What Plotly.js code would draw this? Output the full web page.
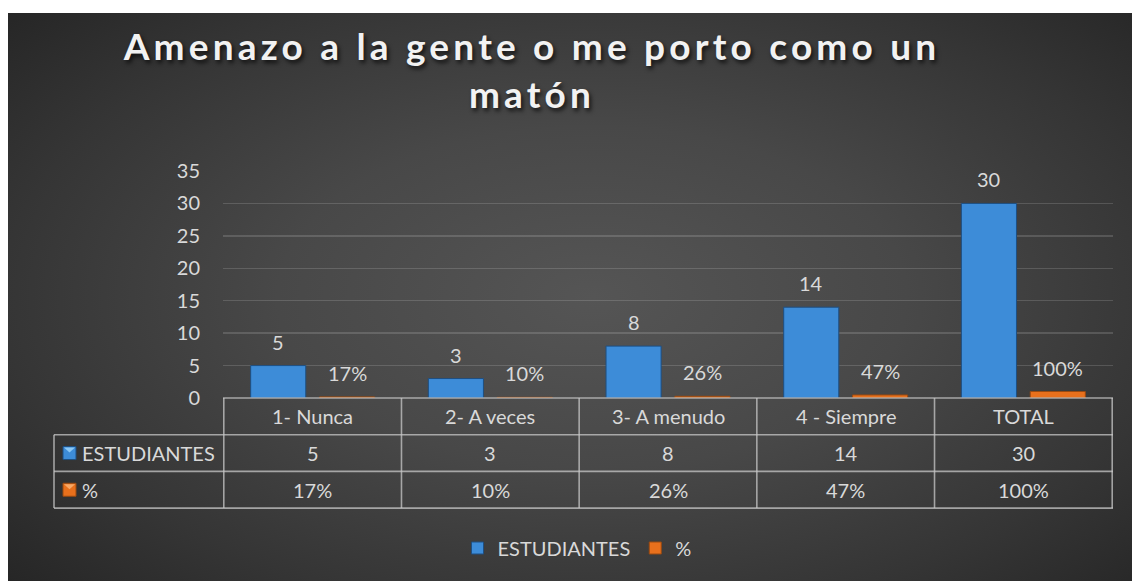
<!DOCTYPE html>
<html>
<head>
<meta charset="utf-8">
<script src="https://cdn.plot.ly/plotly-3.0.1.min.js"></script>
<style>
  html, body { margin: 0; padding: 0; background: #ffffff; }
  #wrap { position: relative; width: 1132px; height: 581px; overflow: hidden; }
  #bg { position: absolute; left: 8px; top: 13px; width: 1124px; height: 568px;
        background: radial-gradient(ellipse 70% 75% at 52% 50%, #555555 0%, #484848 40%, #353535 75%, #262626 100%); }
  #chart { position: absolute; left: 0; top: 0; width: 1132px; height: 581px; }
  #chart .gtitle { letter-spacing: 4.2px; }
</style>
</head>
<body>
<div id="wrap">
  <div id="bg"></div>
  <div id="chart"></div>
</div>
<script>
// ---- data ----
const categories = ['1- Nunca', '2- A veces', '3- A menudo', '4 - Siempre', 'TOTAL'];
const estudiantes = [5, 3, 8, 14, 30];
const porcentaje = [0.17, 0.10, 0.26, 0.47, 1.00];
const seriesNames = ['ESTUDIANTES', '%'];
const yTicks = [0, 5, 10, 15, 20, 25, 30, 35];

// ---- formatting helpers ----
const fmtNum = v => String(v);
const fmtPct = v => Math.round(v * 100) + '%';
const estLabels = estudiantes.map(fmtNum);
const pctLabels = porcentaje.map(fmtPct);

// ---- layout geometry (pixels) ----
const W = 1132, H = 581;
const M = { l: 223, r: 19, t: 171, b: 183 };
const plotW = W - M.l - M.r, plotH = H - M.t - M.b;
const yBottomPx = H - M.b;
const px2py = py => (yBottomPx - py) / plotH;     // pixel y -> paper y
const px2px = px => (px - M.l) / plotW;           // pixel x -> paper x
const rowH = 36.7;
const tableLeftPx = 54;
const tableLineColor = 'rgba(200,200,200,0.75)';
const textColor = '#d9d9d9';
const FONT = 'Lato, "Open Sans", sans-serif';
const FS = 20;
const BLUE = '#3d8cd8', BLUE_EDGE = '#1e4f82', BLUE_LIGHT = '#8cc8f5';
const ORANGE = '#e8701c', ORANGE_EDGE = '#9a4a10', ORANGE_LIGHT = '#f7a866';

const slot = 34.5; // half distance between grouped bar centres (px)

const traces = [
  { type: 'bar', name: seriesNames[0], x: categories, y: estudiantes,
    marker: { color: BLUE, line: { color: BLUE_EDGE, width: 1 } }, hoverinfo: 'x+y' },
  { type: 'bar', name: seriesNames[1], x: categories, y: porcentaje,
    marker: { color: ORANGE, line: { color: ORANGE_EDGE, width: 1 } }, hoverinfo: 'x+y' }
];

const annotations = [];
const shapes = [];
const cellFont = { family: FONT, size: FS, color: textColor };

// bar value labels
categories.forEach((c, i) => {
  annotations.push({ xref: 'x', yref: 'y', x: c, y: estudiantes[i], xshift: -slot, yshift: 24,
    text: estLabels[i], showarrow: false, xanchor: 'center', yanchor: 'middle', font: cellFont });
  annotations.push({ xref: 'x', yref: 'y', x: c, y: porcentaje[i], xshift: slot, yshift: 24,
    text: pctLabels[i], showarrow: false, xanchor: 'center', yanchor: 'middle', font: cellFont });
});

// data table
const rowTops = [yBottomPx, yBottomPx + rowH, yBottomPx + 2 * rowH, yBottomPx + 3 * rowH];
const line = { color: tableLineColor, width: 1.6 };
shapes.push({ type: 'line', xref: 'paper', yref: 'paper', x0: 0, x1: 1, y0: px2py(rowTops[0]), y1: px2py(rowTops[0]), line });
for (let r = 1; r < 4; r++) {
  shapes.push({ type: 'line', xref: 'paper', yref: 'paper', x0: px2px(tableLeftPx), x1: 1,
    y0: px2py(rowTops[r]), y1: px2py(rowTops[r]), line });
}
for (let i = 0; i <= categories.length; i++) {
  shapes.push({ type: 'line', xref: 'x', yref: 'paper', x0: i - 0.5, x1: i - 0.5,
    y0: px2py(rowTops[0]), y1: px2py(rowTops[3]), line });
}
shapes.push({ type: 'line', xref: 'paper', yref: 'paper', x0: px2px(tableLeftPx), x1: px2px(tableLeftPx),
  y0: px2py(rowTops[1]), y1: px2py(rowTops[3]), line });

const rowMid = r => px2py((rowTops[r] + rowTops[r + 1]) / 2);
categories.forEach((c, i) => {
  annotations.push({ xref: 'x', yref: 'paper', x: c, y: rowMid(0), text: c, showarrow: false, xanchor: 'center', yanchor: 'middle', font: cellFont });
  annotations.push({ xref: 'x', yref: 'paper', x: c, y: rowMid(1), text: estLabels[i], showarrow: false, xanchor: 'center', yanchor: 'middle', font: cellFont });
  annotations.push({ xref: 'x', yref: 'paper', x: c, y: rowMid(2), text: pctLabels[i], showarrow: false, xanchor: 'center', yanchor: 'middle', font: cellFont });
});
// row headers with legend keys
const keyColors = [[BLUE, BLUE_EDGE, BLUE_LIGHT], [ORANGE, ORANGE_EDGE, ORANGE_LIGHT]];
seriesNames.forEach((n, k) => {
  const cyPx = (rowTops[k + 1] + rowTops[k + 2]) / 2;
  const x0 = 63, x1 = 76, y0 = cyPx - 6.5, y1 = cyPx + 6.5;
  shapes.push({ type: 'rect', xref: 'paper', yref: 'paper', x0: px2px(x0), x1: px2px(x1), y0: px2py(y1), y1: px2py(y0),
    fillcolor: keyColors[k][0], line: { color: keyColors[k][1], width: 1 } });
  shapes.push({ type: 'path', xref: 'paper', yref: 'paper',
    path: `M ${px2px(x0 + 1)} ${px2py(y0 + 1)} L ${px2px(x1 - 1)} ${px2py(y0 + 1)} L ${px2px((x0 + x1) / 2)} ${px2py(y0 + 6)} Z`,
    fillcolor: keyColors[k][2], line: { width: 0 } });
  annotations.push({ xref: 'paper', yref: 'paper', x: px2px(80), y: px2py(cyPx), xanchor: 'left', yanchor: 'middle',
    text: n, showarrow: false, font: cellFont });
});

const layout = {
  width: W, height: H,
  margin: M,
  paper_bgcolor: 'rgba(0,0,0,0)',
  plot_bgcolor: 'rgba(0,0,0,0)',
  title: {
    text: 'Amenazo a la gente o me porto como un<br>matón',
    font: { family: FONT, size: 37, weight: 700, color: '#f2f2f2', shadow: '2px 3px 4px rgba(0,0,0,0.7)' },
    xref: 'container', x: 532 / W, xanchor: 'center',
    yref: 'container', y: 1 - 60 / H, yanchor: 'top'
  },
  barmode: 'group', bargap: 0.225, bargroupgap: 0.2,
  showlegend: true,
  legend: {
    orientation: 'h', xref: 'container', x: 577 / W, xanchor: 'center',
    yref: 'container', y: 1 - 548 / H, yanchor: 'middle',
    font: { family: FONT, size: FS, color: textColor }, bgcolor: 'rgba(0,0,0,0)'
  },
  xaxis: { type: 'category', showticklabels: false, showgrid: false, zeroline: false, showline: false, ticks: '' },
  yaxis: {
    range: [0, 35], tickvals: yTicks, ticktext: yTicks.map(String),
    showgrid: true, gridcolor: 'rgba(255,255,255,0.15)', gridwidth: 1.3,
    zeroline: false, showline: false, ticks: '', ticklabelstandoff: 22,
    tickfont: { family: FONT, size: FS, color: textColor }
  },
  annotations, shapes
};

Plotly.newPlot('chart', traces, layout, { displayModeBar: false, staticPlot: true });
</script>
</body>
</html>
